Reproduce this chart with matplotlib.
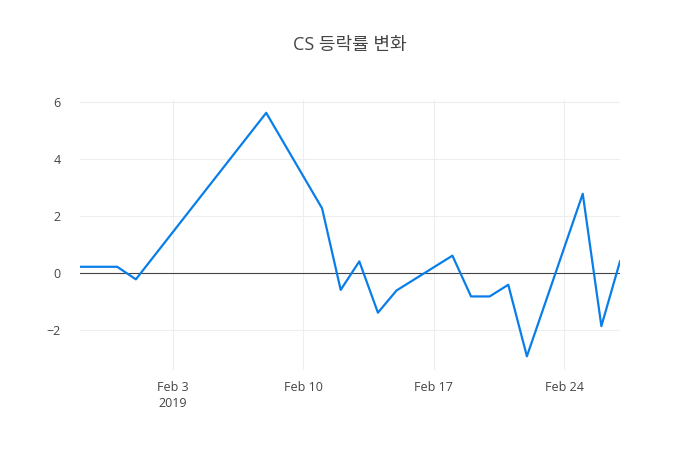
import matplotlib
matplotlib.use('Agg')
import matplotlib.pyplot as plt
import pandas as pd

plt.rcParams['font.family'] = ['Open Sans', 'Noto Sans CJK KR', 'DejaVu Sans']

# CS daily change rate (%)
dates = ['2019-01-29', '2019-01-31', '2019-02-01', '2019-02-08', '2019-02-11',
         '2019-02-12', '2019-02-13', '2019-02-14', '2019-02-15', '2019-02-18',
         '2019-02-19', '2019-02-20', '2019-02-21', '2019-02-22', '2019-02-25',
         '2019-02-26', '2019-02-27']
rates = [0.22, 0.22, -0.22, 5.62, 2.27,
         -0.59, 0.41, -1.39, -0.61, 0.61,
         -0.82, -0.82, -0.41, -2.92, 2.78,
         -1.86, 0.41]
tick_dates = ['2019-02-03', '2019-02-10', '2019-02-17', '2019-02-24']
tick_labels = ['Feb 3\n2019', 'Feb 10', 'Feb 17', 'Feb 24']
y_ticks = [-2, 0, 2, 4, 6]

x = pd.to_datetime(dates)

fig = plt.figure(figsize=(7, 4.5), dpi=100)
ax = fig.add_axes([80 / 700, 80 / 450, 540 / 700, 270 / 450])

ax.plot(x, rates, color='#0a7ee8', lw=1.6, zorder=3)
ax.axhline(0, color='#444444', lw=0.8, zorder=2)

ax.set_xlim(x[0], x[-1])
ax.set_ylim(-3.40, 6.07)

ax.set_xticks(pd.to_datetime(tick_dates))
ax.set_xticklabels(tick_labels, linespacing=1.3)
ax.set_yticks(y_ticks)
ax.set_yticklabels(['\u22122', '0', '2', '4', '6'])

ax.grid(True, color='#eeeeee', lw=0.8, zorder=0)
for s in ax.spines.values():
    s.set_visible(False)
ax.tick_params(length=0, labelsize=9, labelcolor='#444444', pad=8)
ax.tick_params(axis='y', pad=14)

fig.suptitle('CS 등락률 변화', x=0.5, y=1 - 45 / 450, va='center',
             fontsize=13, color='#444444')

fig.savefig('out.png', dpi=100)
